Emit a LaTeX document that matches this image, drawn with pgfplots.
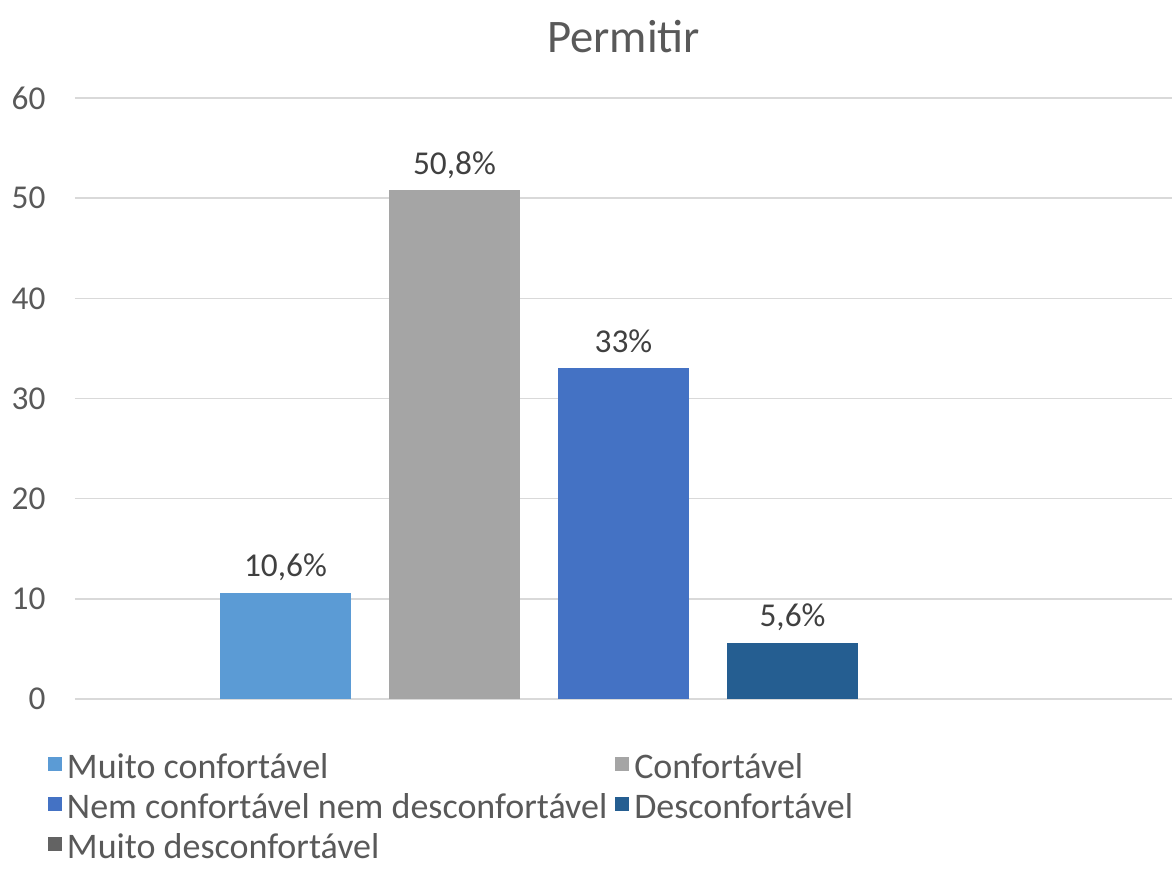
\documentclass[border=0pt]{standalone}
\usepackage{fontspec}
\setmainfont{Carlito}
\usepackage{pgfplots}
\pgfplotsset{compat=1.18}

\definecolor{cMuitoConf}{HTML}{5B9BD5}
\definecolor{cConf}{HTML}{A5A5A5}
\definecolor{cNem}{HTML}{4472C4}
\definecolor{cDesc}{HTML}{255E91}
\definecolor{cMuitoDesc}{HTML}{636363}
\definecolor{gridgray}{HTML}{D9D9D9}
\definecolor{textgray}{HTML}{595959}
\definecolor{labelgray}{HTML}{404040}

\pgfplotsset{
  sqlegend/.style={legend image code/.code={
      \fill[##1,draw=none] (0pt,-1pt) rectangle (10.5pt,9.5pt);}},
  sqlegendcolor/.style={legend image code/.code={
      \fill[fill=#1,fill opacity=1,opacity=1,draw=none] (0pt,-1pt) rectangle (10.5pt,9.5pt);}},
  valuelabels/.style={
    nodes near coords={\pgfmathprintnumber{\pgfplotspointmeta}\%},
    every node near coord/.append style={anchor=base, yshift=12pt, inner sep=0pt,
      font=\fontsize{25}{29}\selectfont, text=labelgray}},
}

\begin{document}
\begin{tikzpicture}
\useasboundingbox (-56.25pt,-139.5pt) rectangle (822.75pt,524.25pt);
\begin{axis}[
  scale only axis,
  width=822.75pt, height=450.75pt,
  ybar=28.5pt, bar width=98.25pt,
  xmin=-1, xmax=1,
  ymin=0, ymax=60,
  xtick=\empty,
  ytick={0,10,...,60},
  ymajorgrids,
  grid style={line width=1.1pt, draw=gridgray},
  axis line style={draw=none},
  tick style={draw=none},
  /pgf/number format/assume math mode=true,
  /pgf/number format/use comma,
  yticklabel style={anchor=east, inner sep=0pt, xshift=-22pt,
    font=\fontsize{25}{29}\selectfont, text=textgray},
  title={Permitir},
  title style={at={(0.5,1)}, anchor=base, yshift=28pt, inner sep=0pt,
    font=\fontsize{35}{41}\selectfont, text=textgray},
  legend columns=2,
  legend style={at={(0,0)}, anchor=north west, xshift=-20.25pt, yshift=-39.7pt,
    draw=none, fill=none, inner sep=0pt, outer sep=0pt,
    row sep=4pt,
    cells={anchor=west},
    nodes={inner sep=0pt, text height=20pt, text depth=6pt,
      font=\fontsize{27}{31}\selectfont, text=textgray},
    /tikz/every odd column/.append style={column sep=3.75pt},
    /tikz/every even column/.append style={column sep=6pt}},
]
\addplot[fill=cMuitoConf, draw=none, sqlegend, valuelabels] coordinates {(0,10.6)};
\addlegendentry{Muito confortável}
\addplot[fill=cConf, draw=none, sqlegend, valuelabels] coordinates {(0,50.8)};
\addlegendentry{Confortável}
\addplot[fill=cNem, draw=none, sqlegend, valuelabels] coordinates {(0,33)};
\addlegendentry{Nem confortável nem desconfortável}
\addplot[fill=cDesc, draw=none, sqlegend, valuelabels] coordinates {(0,5.6)};
\addlegendentry{Desconfortável}
% zero share: keeps its slot and legend entry; the empty bar leaves no trace
\addplot[fill=cMuitoDesc, fill opacity=0, draw=none, sqlegendcolor=cMuitoDesc]
  coordinates {(0,0)};
\addlegendentry{Muito desconfortável}
\end{axis}
\end{tikzpicture}
\end{document}
